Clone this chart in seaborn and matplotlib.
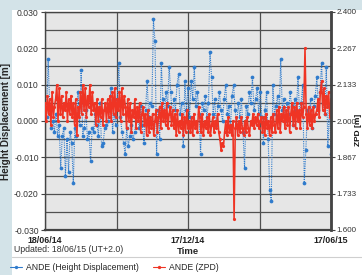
import numpy as np
import pandas as pd
import matplotlib
matplotlib.use('Agg')
import matplotlib.pyplot as plt
from matplotlib.lines import Line2D
from matplotlib.patches import Rectangle
from matplotlib.ticker import MultipleLocator
import seaborn as sns

# ---- data ----
start, end = '2014-06-18', '2015-06-17'

# height displacement, mm, one reading every ~2 days
height_mm = [3, 1, 17, 4, -2, 0, -3, 2, -4, -1,
             -13, -4, -2, -15, -5, -14, -3, -6, -17, -2,
             -4, 8, -1, 14, -4, -2, 3, -5, -3, -11,
             -2, -3, 2, -1, -4, 5, -7, -6, -2, -1,
             0, 3, 9, -3, 2, -1, 6, 16,
             1, -3, -6, -9, -2, -7, -4, -1, -5, -3,
             0, 2, -2, 4, -1, -6, 3, 11, 1, 5,
             4, 28, 22, -9, 3, -5, 16, 6, 2, 8,
             4, 15, 8, 1, 6, 3, 10, 13, 2, 5,
             -7, 11, 3, 9, 1, 11,
             6, 15, 4, 8, 2, -9, 5, 3, 7, 1,
             5, 19, 12, 2, 6, -1, 4, 8, 3, 0,
             6, 10, 2, 4, -2, 7, 10, 3, -1, 5,
             1, 6, -3, -13, 4, 2, 8, 5, 12, 3,
             6, 9, 2, 8, 1, -6, 3, 8, -5, -19,
             -22, 10, 2, 4, 7, 1, 17, 3, 6, 0,
             5, 2, 8, 4, -1, 6, 3, 12, 2, 5,
             10, -17, -8, 3, 1, 6, -2, 4, 7, 12,
             3, 8, 16, 5, 2, 15, -7, 4, -9]

# zenith path delay, m, one reading every ~1.5 days
zpd_m = [2.067, 2.000, 2.093, 2.027, 2.080, 1.987, 2.107, 2.013, 2.053, 2.080,
         2.133, 2.000, 2.120, 2.027, 2.093, 2.013, 2.067, 2.040, 2.107, 2.000,
         2.080, 2.027, 2.093, 2.013, 2.067, 1.987, 2.080, 1.947, 2.053, 2.013,
         2.107, 2.027, 2.133, 2.040, 2.120, 2.013, 2.093, 2.053, 2.133, 2.027,
         2.107, 2.040,
         2.067, 1.987, 2.080, 2.000, 2.053, 2.013, 2.080, 1.987, 2.040, 2.067,
         2.000, 2.080, 2.013,
         2.093, 2.000, 2.107, 2.027, 2.120, 2.013, 2.080, 2.040, 2.107, 2.000,
         2.120, 2.027, 2.093,
         2.053, 1.973, 2.080, 2.000, 2.067, 1.960, 2.040, 2.013, 2.080, 1.973,
         2.053, 2.000, 2.067, 1.960, 2.027, 2.053, 1.987,
         2.027, 1.947, 2.040, 1.960, 2.013, 1.973, 2.027, 1.947, 2.000, 2.040,
         1.960, 2.013,
         2.053, 1.973, 2.067, 2.000, 2.040, 1.987, 2.067, 1.973, 2.027, 2.053,
         1.987, 2.040, 1.973,
         2.027, 1.947, 2.040, 1.960, 2.000, 1.973, 2.027, 1.947, 2.013, 1.960,
         2.040, 1.973, 2.000,
         1.960, 2.013, 1.947, 2.027, 1.973, 2.000, 1.960, 2.053,
         2.013, 1.960, 2.027, 1.947, 2.000, 1.973, 2.013, 1.960, 2.027, 1.947,
         1.987, 2.013, 1.960, 2.000, 1.973, 2.027, 1.960,
         1.933, 1.893, 1.920, 1.907, 1.960,
         2.000, 1.947, 2.013, 1.960, 1.987, 1.947, 2.000, 1.640, 1.973, 2.013,
         1.947, 2.000, 1.960, 2.013, 1.973, 1.947, 2.000, 1.960, 2.013, 1.973,
         1.947, 2.000, 1.987,
         2.027, 1.973, 2.013, 1.987, 2.027, 1.973, 2.000, 2.013,
         1.960, 2.013, 1.947, 2.027, 1.973, 2.000, 1.947, 2.013, 1.960, 2.027,
         1.987, 1.960,
         2.040, 1.973, 2.053, 1.960, 2.027, 2.000, 2.053, 1.973, 2.040, 1.987,
         2.053, 1.960, 2.027,
         2.067, 1.987, 2.053, 1.973, 2.067, 2.000, 2.040, 1.973, 2.067, 2.013,
         2.053,
         2.267,
         2.027, 1.973, 2.053, 1.987, 2.040, 1.973, 2.053, 2.000, 2.027, 2.040,
         2.080, 2.013, 2.107, 2.147, 2.040, 2.120, 2.027, 2.093, 2.053, 2.107,
         2.013, 2.080]

grid_dates = ['2014-06-18', '2014-09-17', '2014-12-17', '2015-03-18', '2015-06-17']
date_labels = ['18/06/14', '', '17/12/14', '', '17/06/15']
left_ticks = [-0.030, -0.020, -0.010, 0.000, 0.010, 0.020, 0.030]
right_ticks = [1.600, 1.733, 1.867, 2.000, 2.133, 2.267, 2.400]

blue = '#2f7bcc'
red = '#ef3424'

height = pd.DataFrame({
    'date': pd.date_range(start, end, periods=len(height_mm)),
    'value': np.array(height_mm) / 1000.0,
})
zpd = pd.DataFrame({
    'date': pd.date_range(start, end, periods=len(zpd_m)),
    'value': zpd_m,
})

sns.set_style('white')
plt.rcParams['font.family'] = ['Liberation Sans', 'DejaVu Sans']

fig = plt.figure(figsize=(3.62, 2.75), dpi=100, facecolor='#d3e3e8')
fig.add_artist(Rectangle((12 / 362, 0), 1, 265 / 275, transform=fig.transFigure,
                         facecolor='white', edgecolor='none', zorder=-1))

ax = fig.add_axes([45 / 362, 1 - 230 / 275, 286 / 362, 218 / 275])
ax.set_facecolor('#e6e6e6')
ax.set_axisbelow(True)

sns.lineplot(data=height, x='date', y='value', ax=ax, color=blue,
             linestyle=(0, (1, 1)), lw=0.8, marker='o', markersize=2.7,
             markeredgewidth=0, legend=False)

ax.set_xlim(pd.Timestamp(start), pd.Timestamp(end))
ax.set_ylim(-0.03, 0.03)
ax.set_yticks(left_ticks)
ax.set_yticklabels(['%.3f' % v for v in left_ticks])
ax.yaxis.set_minor_locator(MultipleLocator(0.005))
ax.set_xticks(pd.to_datetime(grid_dates))
ax.set_xticklabels(date_labels, fontweight='bold')
ax.grid(axis='y', which='both', color='#505050', lw=0.9)
ax.grid(axis='x', which='major', color='#505050', lw=0.9)
ax.tick_params(axis='y', which='major', direction='out', length=3, width=0.8,
               color='#444444', labelsize=6.2, pad=1.5, labelcolor='#333333')
ax.tick_params(axis='y', which='minor', length=0)
ax.tick_params(axis='x', direction='out', length=3, width=0.8, color='#444444',
               labelsize=6.4, pad=1.5, labelcolor='#222222')
ax.set_ylabel('Height Displacement [m]', fontweight='bold', fontsize=7.2, labelpad=2)
ax.set_xlabel('Time', fontweight='bold', fontsize=6.8, labelpad=1)
for s in ax.spines.values():
    s.set_color('#444444')
    s.set_linewidth(1.0)
ax.spines['bottom'].set_linewidth(1.6)

ax2 = ax.twinx()
sns.lineplot(data=zpd, x='date', y='value', ax=ax2, color=red, lw=1.15,
             marker='o', markersize=2.3, markeredgewidth=0, legend=False)
ax2.set_ylim(1.6, 2.4)
ax2.set_yticks(right_ticks)
ax2.set_yticklabels(['%.3f' % v for v in right_ticks])
ax2.tick_params(axis='y', direction='out', length=3, width=0.8, color='#444444',
                labelsize=5.8, pad=1.0, labelcolor='#333333')
ax2.set_ylabel('')
ax2.spines['right'].set_color('#444444')
ax2.spines['right'].set_linewidth(2.0)
for name in ['left', 'top', 'bottom']:
    ax2.spines[name].set_visible(False)

fig.text(358.3 / 362, 1 - 130 / 275, 'ZPD [m]', rotation=90, fontweight='bold',
         fontsize=6.0, ha='center', va='center', color='#111111')
fig.text(14 / 362, 1 - 250 / 275, 'Updated: 18/06/15 (UT+2.0)', fontsize=6.3,
         va='center', color='#333333')
fig.add_artist(Line2D([12 / 362, 1], [1 - 257 / 275] * 2, color='#cfcfcf', lw=0.8))

handles = [Line2D([], [], color=blue, lw=0.8, marker='o', markersize=2.4, markeredgewidth=0),
           Line2D([], [], color=red, lw=0.8, marker='o', markersize=2.4, markeredgewidth=0)]
fig.legend(handles, ['ANDE (Height Displacement)', 'ANDE (ZPD)'],
           loc='center left', bbox_to_anchor=(10 / 362, 1 - 268 / 275), ncol=2,
           frameon=False, fontsize=6.2, handlelength=1.4, handletextpad=0.5,
           columnspacing=1.6, borderaxespad=0, borderpad=0)

fig.savefig('out.png', dpi=100, facecolor=fig.get_facecolor())
